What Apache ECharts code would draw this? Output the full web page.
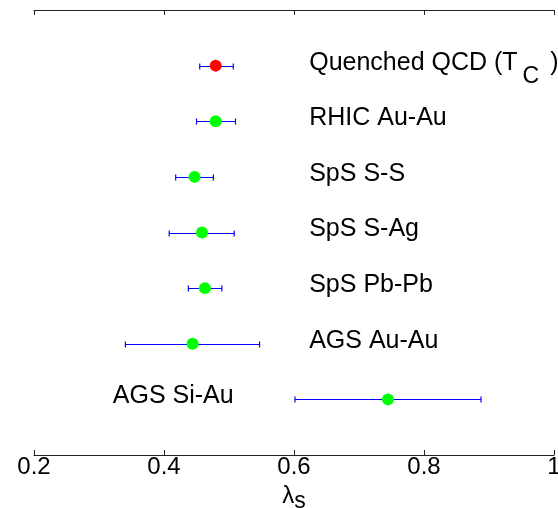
<!DOCTYPE html>
<html>
<head>
<meta charset="utf-8">
<script src="https://cdn.jsdelivr.net/npm/echarts@6/dist/echarts.min.js"></script>
<style>
html,body{margin:0;padding:0;background:#fff;}
#chart{width:558px;height:508px;}
</style>
</head>
<body>
<div id="chart"></div>
<script>
// ---- data ----
const categories = ['Quenched QCD (T_C )', 'RHIC Au-Au', 'SpS S-S', 'SpS S-Ag', 'SpS Pb-Pb', 'AGS Au-Au', 'AGS Si-Au'];
const rowIndex = [7, 6, 5, 4, 3, 2, 1];
const lambdaS = [0.4795, 0.4795, 0.447, 0.4585, 0.463, 0.444, 0.7446];
const errLow = [0.455, 0.450, 0.418, 0.408, 0.4375, 0.3406, 0.6015];
const errHigh = [0.5066, 0.510, 0.476, 0.508, 0.489, 0.547, 0.8877];
const xTicks = [0.2, 0.4, 0.6, 0.8, 1];

const FONT = 'Liberation Sans, Arial, sans-serif';
const chart = echarts.init(document.getElementById('chart'), null, {renderer: 'canvas'});

const pointData = lambdaS.map((v, i) => [v, rowIndex[i]]);
const errData = errLow.map((lo, i) => [rowIndex[i], lo, errHigh[i]]);
const labelData = categories.map((c, i) => ({
  value: [i === categories.length - 1 ? 0.3205 : 0.6226, rowIndex[i]],
  name: c
}));

const axisCommon = {
  type: 'value',
  min: xTicks[0],
  max: xTicks[xTicks.length - 1],
  interval: 0.2,
  splitLine: {show: false},
  axisLine: {show: true, lineStyle: {color: '#222', width: 1}},
  axisTick: {show: true, inside: true, length: 5, lineStyle: {color: '#222', width: 1}}
};

chart.setOption({
  animation: false,
  backgroundColor: '#fff',
  grid: {left: 34, right: 4, top: 10, bottom: 53, containLabel: false, outerBoundsMode: 'none'},
  xAxis: [
    Object.assign({}, axisCommon, {
      position: 'bottom',
      axisLabel: {
        show: true, margin: 0, color: '#000', fontSize: 24, fontFamily: FONT,
        formatter: v => String(+v.toFixed(2))
      },
      name: '{l|λ}{s|s}',
      nameLocation: 'middle',
      nameGap: 18,
      nameTextStyle: {
        color: '#000', fontFamily: FONT, fontSize: 24,
        rich: {
          l: {fontSize: 24, fontFamily: FONT, color: '#000'},
          s: {fontSize: 23, fontFamily: FONT, color: '#000', padding: [12, 0, 0, 0]}
        }
      }
    }),
    Object.assign({}, axisCommon, {
      position: 'top',
      axisLabel: {show: false}
    })
  ],
  yAxis: {type: 'value', min: 0, max: 8, show: false},
  series: [
    {
      type: 'custom',
      xAxisIndex: 0,
      z: 2,
      silent: true,
      encode: {x: [1, 2], y: 0},
      data: errData,
      renderItem: function (params, api) {
        const y = api.value(0);
        const p1 = api.coord([api.value(1), y]);
        const p2 = api.coord([api.value(2), y]);
        const yy = Math.round(p1[1]) + 0.5;
        const style = {stroke: '#0000ff', lineWidth: 1.2, fill: null};
        return {
          type: 'group',
          children: [
            {type: 'line', shape: {x1: p1[0], y1: yy, x2: p2[0], y2: yy}, style: style},
            {type: 'line', shape: {x1: p1[0], y1: yy - 3, x2: p1[0], y2: yy + 3}, style: style},
            {type: 'line', shape: {x1: p2[0], y1: yy - 3, x2: p2[0], y2: yy + 3}, style: style}
          ]
        };
      }
    },
    {
      type: 'scatter',
      z: 3,
      symbol: 'circle',
      symbolSize: 12,
      data: pointData,
      itemStyle: {
        color: p => (p.dataIndex === 0 ? '#ff0000' : '#00ff00'),
        opacity: 1
      }
    },
    {
      type: 'scatter',
      z: 4,
      symbolSize: 1,
      silent: true,
      data: labelData,
      itemStyle: {color: 'rgba(0,0,0,0)'},
      label: {
        show: true,
        position: 'right',
        distance: 0,
        offset: [0, -3],
        color: '#000',
        opacity: 1,
        textBorderWidth: 0,
        textShadowBlur: 0,
        fontSize: 25,
        fontFamily: FONT,
        formatter: p => p.name.replace(/_(\w)/, '{s|$1}'),
        rich: {
          s: {fontSize: 23, fontFamily: FONT, color: '#000', padding: [28, 4, 0, 5]}
        }
      }
    }
  ]
});
</script>
</body>
</html>
